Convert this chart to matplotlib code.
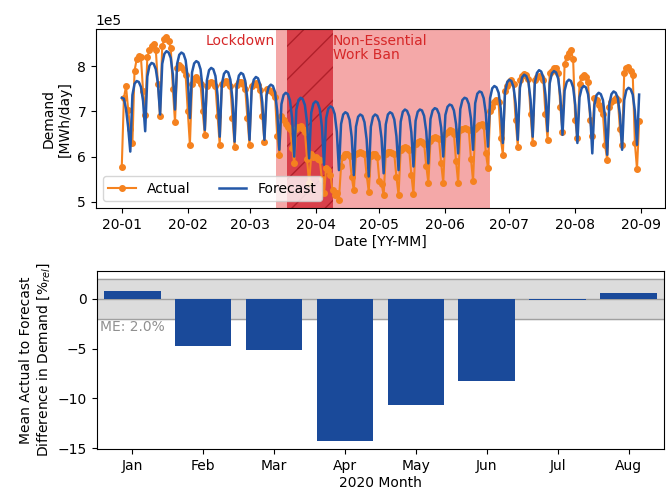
import numpy as np
import pandas as pd
import matplotlib
matplotlib.use("Agg")
import matplotlib.pyplot as plt
import matplotlib.dates as mdates

# Daily electricity demand, 2020-01-01 .. 2020-08-31, in units of 1e5 MWh/day
start_date = "2020-01-01"
actual_e5 = [
    5.78, 7.30, 7.55, 7.04, 6.62,
    6.30, 7.90, 8.15, 8.22, 8.20, 7.45, 6.93,
    8.20, 8.35, 8.45, 8.48, 8.35, 7.60, 6.89,
    8.45, 8.60, 8.64, 8.55, 8.40, 7.50, 6.76,
    7.95, 8.02, 7.98, 7.92, 7.80, 7.00, 6.26,
    7.60, 7.72, 7.75, 7.70, 7.60, 7.00, 6.48,
    7.55, 7.62, 7.65, 7.62, 7.55, 6.90, 6.26,
    7.60, 7.65, 7.66, 7.62, 7.55, 6.85, 6.22,
    7.58, 7.64, 7.65, 7.60, 7.50, 6.85, 6.26,
    7.55, 7.60, 7.62, 7.58, 7.48, 6.90, 6.33,
    7.50, 7.48, 7.45, 7.40, 7.32, 6.45, 6.04,
    6.90, 6.80, 6.72, 6.65, 6.60, 6.20, 5.86,
    6.62, 6.66, 6.68, 6.62, 6.55, 5.95, 5.41,
    6.05, 6.00, 5.98, 5.95, 5.92, 5.50, 5.19,
    5.75, 5.70, 5.60, 5.25, 5.15, 5.20, 5.04,
    5.80, 6.00, 6.05, 6.05, 6.02, 5.55, 5.25,
    6.05, 6.08, 6.10, 6.08, 6.05, 5.60, 5.22,
    6.02, 6.05, 6.05, 6.00, 5.45, 5.40, 5.15,
    6.05, 6.10, 6.10, 6.08, 6.05, 5.55, 5.15,
    6.15, 6.20, 6.22, 6.20, 6.15, 5.60, 5.18,
    6.28, 6.33, 6.35, 6.33, 6.28, 5.80, 5.42,
    6.35, 6.42, 6.44, 6.42, 6.38, 5.85, 5.42,
    6.50, 6.55, 6.58, 6.56, 6.50, 5.90, 5.42,
    6.58, 6.62, 6.64, 6.62, 6.58, 5.95, 5.46,
    6.62, 6.66, 6.70, 6.72, 6.68, 6.08, 5.75,
    7.00, 7.10, 7.20, 7.25, 7.20, 6.40, 6.04,
    7.45, 7.55, 7.65, 7.70, 7.60, 6.80, 6.22,
    7.70, 7.78, 7.82, 7.80, 7.72, 6.95, 6.30,
    7.70, 7.75, 7.78, 7.76, 7.70, 6.95, 6.37,
    7.85, 7.90, 7.95, 7.95, 7.85, 7.10, 6.55,
    8.05, 8.20, 8.30, 8.35, 8.15, 6.80, 6.40,
    7.60, 7.75, 7.80, 7.75, 7.65, 6.80, 6.45,
    7.30, 7.25, 7.15, 7.05, 6.95, 6.25, 5.93,
    7.10, 7.20, 7.25, 7.30, 7.25, 6.60, 6.26,
    7.85, 7.95, 7.98, 7.90, 7.80, 6.30, 5.72,
    6.78,
]
forecast_e5 = [
    7.30, 7.28, 7.05, 6.65, 6.11,
    7.36, 7.61, 7.67, 7.65, 7.54, 7.23, 6.56,
    7.77, 8.01, 8.07, 8.05, 7.93, 7.61, 6.93,
    8.05, 8.27, 8.33, 8.30, 8.18, 7.81, 7.04,
    8.05, 8.25, 8.30, 8.27, 8.13, 7.72, 6.85,
    7.86, 8.06, 8.11, 8.08, 7.93, 7.50, 6.59,
    7.69, 7.91, 7.96, 7.93, 7.78, 7.35, 6.44,
    7.60, 7.83, 7.89, 7.86, 7.70, 7.27, 6.33,
    7.55, 7.79, 7.85, 7.82, 7.67, 7.26, 6.37,
    7.48, 7.70, 7.76, 7.73, 7.59, 7.20, 6.37,
    7.35, 7.54, 7.59, 7.56, 7.42, 7.01, 6.15,
    7.16, 7.36, 7.41, 7.38, 7.24, 6.85, 6.00,
    7.04, 7.25, 7.30, 7.27, 7.14, 6.76, 5.96,
    6.97, 7.17, 7.22, 7.19, 7.05, 6.66, 5.82,
    6.85, 7.06, 7.11, 7.08, 6.94, 6.55, 5.70,
    6.72, 6.93, 6.98, 6.95, 6.81, 6.43, 5.59,
    6.66, 6.88, 6.93, 6.90, 6.76, 6.38, 5.56,
    6.66, 6.88, 6.93, 6.90, 6.77, 6.41, 5.63,
    6.71, 6.93, 6.98, 6.95, 6.82, 6.45, 5.70,
    6.77, 6.99, 7.04, 7.01, 6.89, 6.54, 5.78,
    6.79, 6.99, 7.04, 7.02, 6.90, 6.56, 5.85,
    6.83, 7.02, 7.07, 7.05, 6.94, 6.64, 6.00,
    6.92, 7.10, 7.15, 7.13, 7.02, 6.72, 6.07,
    7.05, 7.25, 7.30, 7.28, 7.16, 6.84, 6.15,
    7.18, 7.39, 7.44, 7.42, 7.29, 6.95, 6.22,
    7.29, 7.51, 7.56, 7.53, 7.41, 7.06, 6.30,
    7.42, 7.64, 7.70, 7.67, 7.54, 7.17, 6.37,
    7.52, 7.75, 7.81, 7.78, 7.65, 7.26, 6.44,
    7.62, 7.85, 7.91, 7.88, 7.75, 7.37, 6.56,
    7.62, 7.84, 7.89, 7.86, 7.72, 7.33, 6.48,
    7.46, 7.65, 7.70, 7.67, 7.53, 7.14, 6.30,
    7.31, 7.51, 7.56, 7.53, 7.38, 6.96, 6.07,
    7.14, 7.36, 7.41, 7.38, 7.25, 6.86, 6.04,
    7.16, 7.38, 7.44, 7.41, 7.29, 6.92, 6.15,
    7.25, 7.47, 7.52, 7.49, 7.37, 7.01, 6.26,
    7.37,
]

# Restriction periods
lockdown_period = ("2020-03-13 12:00", "2020-06-22")
work_ban_period = ("2020-03-18 12:00", "2020-04-09")

# Monthly mean actual-to-forecast difference [%]
months = ["Jan", "Feb", "Mar", "Apr", "May", "Jun", "Jul", "Aug"]
monthly_diff = [0.8, -4.76, -5.17, -14.3, -10.67, -8.29, -0.13, 0.6]
mean_error = 2.0

plt.rcParams["font.family"] = "DejaVu Sans"
plt.rcParams["font.size"] = 10

orange = "#F5821F"
line_blue = "#2458A8"
bar_blue = "#1A4A9A"

dates = pd.date_range(start_date, periods=len(actual_e5), freq="D")
actual = np.array(actual_e5) * 1e5
forecast = np.array(forecast_e5) * 1e5

fig = plt.figure(figsize=(6.66, 4.92), dpi=100)
ax1 = fig.add_axes([0.144, 0.577, 0.8545, 0.364])
ax2 = fig.add_axes([0.1452, 0.0868, 0.852, 0.363])

# --- daily demand ---
ax1.axvspan(pd.Timestamp(lockdown_period[0]), pd.Timestamp(lockdown_period[1]),
            facecolor="#F4A8A8", edgecolor="none", zorder=0)
ax1.axvspan(pd.Timestamp(work_ban_period[0]), pd.Timestamp(work_ban_period[1]),
            facecolor="#D9404A", edgecolor="#B0202A", linewidth=0,
            hatch="/", zorder=0.5)
ax1.plot(dates, actual, color=orange, marker="o", markersize=4,
         linewidth=1.5, label="Actual", zorder=2)
ax1.plot(dates, forecast, color=line_blue, linewidth=1.8,
         label="Forecast", zorder=3)

trans = ax1.get_xaxis_transform()
ax1.text(pd.Timestamp(lockdown_period[0]) - pd.Timedelta(hours=12), 0.975,
         "Lockdown", color="#D62728", ha="right", va="top", transform=trans)
ax1.text(pd.Timestamp(work_ban_period[1]) + pd.Timedelta(hours=6), 0.975,
         "Non-Essential\nWork Ban", color="#D62728", ha="left", va="top",
         transform=trans, linespacing=1.0)

ax1.xaxis.set_major_locator(mdates.MonthLocator())
ax1.xaxis.set_major_formatter(mdates.DateFormatter("%y-%m"))
ax1.set_yticks([5e5, 6e5, 7e5, 8e5])
ax1.ticklabel_format(axis="y", style="sci", scilimits=(0, 0))
ax1.set_xlabel("Date [YY-MM]", labelpad=2)
ax1.set_ylabel("Demand\n[MWh/day]")
ax1.legend(loc="lower left", ncol=2)

# --- monthly difference ---
x = np.arange(len(months))
ax2.axhspan(-mean_error, mean_error, color="#DCDCDC", zorder=0)
for yv in (-mean_error, 0, mean_error):
    ax2.axhline(yv, color="#A0A0A0", linewidth=1, zorder=1)
ax2.bar(x, monthly_diff, width=0.8, color=bar_blue, zorder=2)
ax2.text(-0.46, -mean_error - 0.15, f"ME: {mean_error:.1f}%", color="#909090",
         ha="left", va="top", zorder=3)
ax2.set_xticks(x)
ax2.set_xticklabels(months)
ax2.set_xlim(-0.5, len(months) - 0.5)
ax2.set_yticks([0, -5, -10, -15])
ax2.set_xlabel("2020 Month", labelpad=2)
ax2.set_ylabel("Mean Actual to Forecast\nDifference in Demand [%$_{rel}$]")

fig.savefig("out.png", dpi=100)
